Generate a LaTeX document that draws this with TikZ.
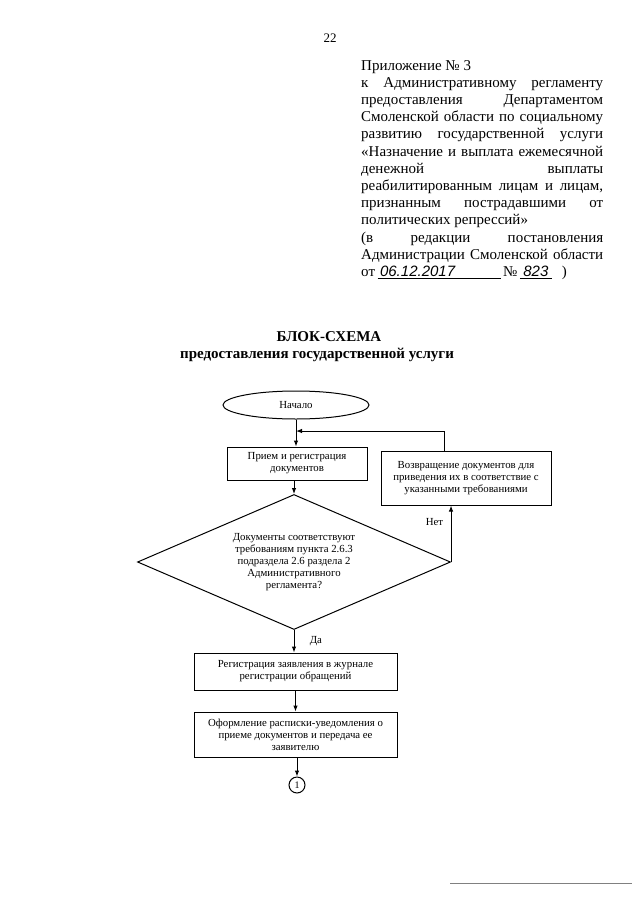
\documentclass[tikz,border=0pt]{standalone}
\usepackage{fontspec}
\setmainfont{Liberation Serif}
\newfontfamily\handfont{Liberation Sans}
\usepackage{tikz}
\usetikzlibrary{shapes.geometric, arrows.meta, positioning, calc}
\newcommand{\hjust}[1]{\makebox[242pt][s]{#1}}
\tikzset{blockbox/.style={draw, rectangle, line width=1pt, align=center, inner sep=2pt, font=\fontsize{10.8}{12}\selectfont},
arr/.style={line width=1pt, -{Latex[length=6pt,width=4.5pt]}},
%header text, 14pt in the original
hdr/.style={inner sep=0pt, align=left, font=\fontsize{15}{17.2}\selectfont}}

\begin{document}
\begin{tikzpicture}[x=1pt,y=-1pt]
 \useasboundingbox[fill=white] (0,0) rectangle (640,905);

 \node (pagenum) [font=\fontsize{13}{15}\selectfont] at (330,38) {22};

 \node[hdr, anchor=north west] (appendix) at (361,60) {Приложение № 3\\
 \hjust{к Административному регламенту}\\
 \hjust{предоставления Департаментом}\\
 \hjust{Смоленской области по социальному}\\
 \hjust{развитию государственной услуги}\\
 \hjust{«Назначение и выплата ежемесячной}\\
 \hjust{денежной выплаты}\\
 \hjust{реабилитированным лицам и лицам,}\\
 \hjust{признанным пострадавшими от}\\
 политических репрессий»\\
 \hjust{(в редакции постановления}\\
 \hjust{Администрации Смоленской области}\\
 от\,\underline{\makebox[123pt][l]{\,{\handfont\itshape 06.12.2017}}}\,№\,\underline{\makebox[32pt]{{\handfont\itshape 823}}}\hspace{10pt})};

 \node (title1) [font=\bfseries\fontsize{15}{18}\selectfont] at (329,337) {БЛОК-СХЕМА};
 \node (title2) [font=\bfseries\fontsize{15}{18}\selectfont] at (317,355) {предоставления государственной услуги};

 % flowchart
 \node[draw, ellipse, line width=1pt, minimum width=146pt, minimum height=28pt, font=\fontsize{10.8}{12}\selectfont] (start) at (296,405) {Начало};
 \node[blockbox, minimum width=140pt, minimum height=33pt] (recv) at (297,463.5) {Прием и регистрация\\документов};
 \node[blockbox, minimum width=170pt, minimum height=54pt] (ret) at (466,478) {Возвращение документов для\\приведения их в соответствие с\\указанными требованиями};
 \node[draw, diamond, line width=1pt, aspect=2.32, inner sep=0pt, minimum width=313pt, minimum height=135pt, align=center, font=\fontsize{10.8}{12}\selectfont] (check) at (294,562) {Документы соответствуют\\требованиям пункта 2.6.3\\подраздела 2.6 раздела 2\\Административного\\регламента?};
 \node[blockbox, minimum width=203pt, minimum height=37pt] (reg) at (295.5,671.5) {Регистрация заявления в журнале\\регистрации обращений};
 \node[blockbox, minimum width=203pt, minimum height=45pt] (notice) at (295.5,734.5) {Оформление расписки-уведомления о\\приеме документов и передача ее\\заявителю};
 \node[draw, circle, line width=1pt, minimum size=16pt, inner sep=0pt, font=\fontsize{10}{12}\selectfont] (conn) at (297,785) {1};

 \coordinate (backtop) at (444,431);

 \draw[arr] (start) -- (start |- recv.north);
 \draw[arr] (ret.north -| backtop) -- (backtop) -- (backtop -| start);
 \draw[arr] (recv.south -| check.north) -- (check.north);
 \draw[arr] (check.east) -- (check.east |- ret.south) node[pos=0.7, left=4pt, font=\fontsize{10.8}{12}\selectfont] {Нет};
 \draw[arr] (check.south) -- (check.south |- reg.north) node[midway, right=12pt, font=\fontsize{10.8}{12}\selectfont] {Да};
 \draw[arr] (reg) -- (notice);
 \draw[arr] (notice.south -| conn) -- (conn);

 \draw[gray, line width=0.6pt] (450,883) -- (632,883);
\end{tikzpicture}
\end{document}
